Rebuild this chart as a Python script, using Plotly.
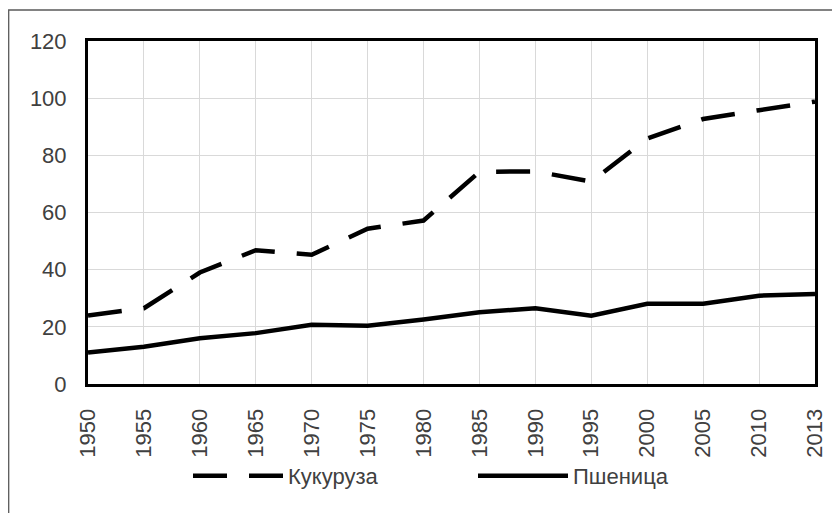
import plotly.graph_objects as go

years = ["1950", "1955", "1960", "1965", "1970", "1975", "1980", "1985",
         "1990", "1995", "2000", "2005", "2010", "2013"]
corn = [24, 26.5, 39, 46.8, 45.2, 54.3, 57.2, 74.2, 74.4, 70.8, 85.9, 92.7, 95.8, 98.8]
wheat = [11.0, 13.0, 16.0, 17.8, 20.7, 20.4, 22.6, 25.1, 26.5, 23.9, 28.1, 28.1, 30.9, 31.5]
yticks = [0, 20, 40, 60, 80, 100, 120]

# the page body adds an 8px offset; work in page pixel coordinates
OFF = 8
W, H = 840 - OFF, 513 - OFF
L, R, T, B = 88 - OFF, 815 - OFF, 41 - OFF, 384 - OFF
pw, ph = R - L, B - T

def px(x):
    return (x - OFF - L) / pw

def py(y):
    return (B - (y - OFF)) / ph

fig = go.Figure()
fig.add_trace(go.Scatter(x=years, y=corn, mode="lines", name="Кукуруза",
                         line=dict(color="black", width=4.5, dash="34px,22px")))
fig.add_trace(go.Scatter(x=years, y=wheat, mode="lines", name="Пшеница",
                         line=dict(color="black", width=4.5)))

font = dict(family="Liberation Sans", size=22, color="#404040")

fig.update_layout(
    width=W, height=H,
    margin=dict(l=L, r=W - R, t=T, b=H - B, autoexpand=False),
    paper_bgcolor="white", plot_bgcolor="white",
    font=font,
    showlegend=True,
    legend=dict(orientation="h", x=px(188), xanchor="left", y=py(476), yanchor="middle",
                itemwidth=90, entrywidth=180, font=font, bgcolor="rgba(0,0,0,0)",
                tracegroupgap=0),
    xaxis=dict(type="category", range=[0, len(years) - 1], tickangle=-90,
               showgrid=True, gridcolor="#d9d9d9", gridwidth=1,
               showline=True, linecolor="black", linewidth=3, mirror=True,
               ticks="", ticklabelstandoff=13, tickfont=font, fixedrange=True,
               automargin=False),
    yaxis=dict(range=[0, 120], tickvals=yticks, showgrid=True, gridcolor="#d9d9d9",
               gridwidth=1, showline=True, linecolor="black", linewidth=3, mirror=True,
               ticks="", ticklabelstandoff=14, tickfont=font, zeroline=False,
               fixedrange=True, automargin=False),
    shapes=[dict(type="rect", xref="paper", yref="paper",
                 x0=px(8.7), x1=px(900), y0=py(600), y1=py(10),
                 line=dict(color="#595959", width=1.3), layer="below")],
)

fig.write_html("out.html")
